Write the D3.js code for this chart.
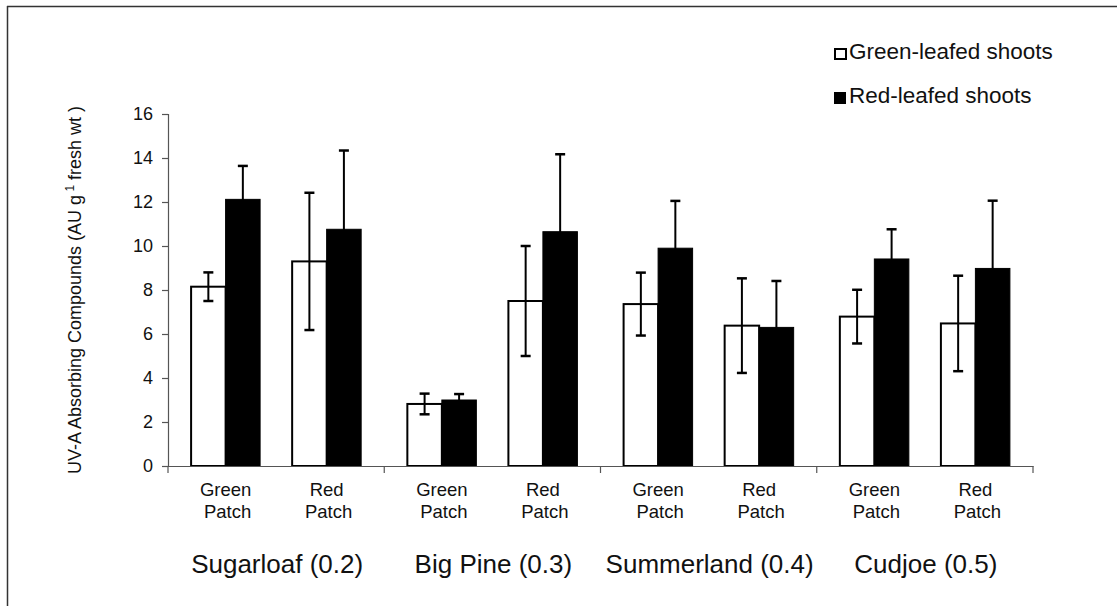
<!DOCTYPE html>
<html>
<head>
<meta charset="utf-8">
<script src="https://cdn.jsdelivr.net/npm/d3@7"></script>
<style>
  html, body { margin: 0; padding: 0; background: #fff; }
  svg { display: block; font-family: Arial, "Liberation Sans", sans-serif; }
</style>
</head>
<body>
<svg id="chart" width="1117" height="606"></svg>
<script>
// Sites (with salinity index) and the two patch types sampled at each
const sites = ["Sugarloaf (0.2)", "Big Pine (0.3)", "Summerland (0.4)", "Cudjoe (0.5)"];
const patches = ["Green Patch", "Red Patch"];
const series = ["Green-leafed shoots", "Red-leafed shoots"];

// Means and standard errors, ordered site by site, Green Patch then Red Patch
const greenMeans = [8.15, 9.3, 2.82, 7.5, 7.36, 6.38, 6.79, 6.48];
const greenErr   = [0.65, 3.12, 0.47, 2.5, 1.43, 2.15, 1.22, 2.17];
const redMeans   = [12.12, 10.76, 3.0, 10.65, 9.9, 6.3, 9.41, 8.98];
const redErr     = [1.52, 3.58, 0.27, 3.52, 2.15, 2.11, 1.35, 3.08];

const yTicks = [0, 2, 4, 6, 8, 10, 12, 14, 16];

const svg = d3.select("#chart");

// Frame lines
svg.append("line").attr("x1", 7).attr("x2", 1117).attr("y1", 6.5).attr("y2", 6.5)
  .attr("stroke", "#333").attr("stroke-width", 1.5);
svg.append("line").attr("x1", 7.5).attr("x2", 7.5).attr("y1", 6).attr("y2", 606)
  .attr("stroke", "#333").attr("stroke-width", 1.5);

const plotLeft = 168, plotRight = 1033, plotTop = 114, plotBottom = 466;

const y = d3.scaleLinear().domain([0, 16]).range([plotBottom, plotTop]);
const xSite = d3.scaleBand().domain(sites).range([plotLeft, plotRight]).padding(0);
const xPatch = d3.scalePoint().domain(patches).range([0, xSite.bandwidth()]).padding(0.57);
const barW = 34.5;
const xSeries = d3.scaleBand().domain(series).range([-barW, barW]).padding(0);

// Flatten into one record per bar
const rows = [];
sites.forEach((s, i) => {
  patches.forEach((p, j) => {
    const k = i * 2 + j;
    rows.push({ site: s, patch: p, series: series[0], mean: greenMeans[k], err: greenErr[k] });
    rows.push({ site: s, patch: p, series: series[1], mean: redMeans[k], err: redErr[k] });
  });
});
const cx = d => xSite(d.site) + xPatch(d.patch);

// Y axis
const yAxis = d3.axisLeft(y).tickValues(yTicks).tickSize(6).tickPadding(9).tickFormat(d3.format("d"));
const gy = svg.append("g").attr("transform", `translate(${plotLeft},0)`).call(yAxis);
gy.select(".domain").attr("stroke", "#555").attr("stroke-width", 1.2);
gy.selectAll(".tick line").attr("stroke", "#555").attr("stroke-width", 1.2);
gy.selectAll(".tick text").attr("font-size", 18).attr("fill", "#111")
  .attr("font-family", "Arial, 'Liberation Sans', sans-serif");

// Bars
svg.append("g").selectAll("rect").data(rows).join("rect")
  .attr("x", d => cx(d) + xSeries(d.series))
  .attr("width", xSeries.bandwidth())
  .attr("y", d => y(d.mean))
  .attr("height", d => y(0) - y(d.mean))
  .attr("fill", d => d.series === series[0] ? "#fff" : "#000")
  .attr("stroke", "#000")
  .attr("stroke-width", d => d.series === series[0] ? 2 : 1);

// X axis (drawn over bar bottoms), ticks only between sites
const xAxis = d3.axisBottom(xSite).tickSize(0).tickFormat("");
const gx = svg.append("g").attr("transform", `translate(0,${plotBottom})`).call(xAxis);
gx.select(".domain").attr("stroke", "#555").attr("stroke-width", 1.2);
gx.selectAll(".tick").remove();
const bounds = sites.map(s => xSite(s)).concat([plotRight]);
gx.selectAll("line.sep").data(bounds).join("line").attr("class", "sep")
  .attr("x1", d => d).attr("x2", d => d).attr("y1", 0).attr("y2", 7)
  .attr("stroke", "#555").attr("stroke-width", 1.2);

// Error bars
const eb = svg.append("g").selectAll("g").data(rows).join("g")
  .attr("transform", d => `translate(${cx(d) + xSeries(d.series) + xSeries.bandwidth() / 2},0)`);
eb.append("line").attr("y1", d => y(d.mean + d.err)).attr("y2", d => y(d.mean - d.err))
  .attr("stroke", "#000").attr("stroke-width", 2);
eb.append("line").attr("x1", -5).attr("x2", 5)
  .attr("y1", d => y(d.mean + d.err)).attr("y2", d => y(d.mean + d.err))
  .attr("stroke", "#000").attr("stroke-width", 2.5);
eb.append("line").attr("x1", -5).attr("x2", 5)
  .attr("y1", d => y(d.mean - d.err)).attr("y2", d => y(d.mean - d.err))
  .attr("stroke", d => d.series === series[0] ? "#000" : "none").attr("stroke-width", 2.5);

// Patch labels under each pair of bars
const patchLabels = svg.append("g");
sites.forEach(s => {
  patches.forEach(p => {
    const [l1, l2] = p.split(" ");
    const t = patchLabels.append("text").attr("text-anchor", "middle")
      .attr("font-size", 18.5).attr("fill", "#111");
    const px = xSite(s) + xPatch(p);
    t.append("tspan").attr("x", px).attr("y", 496).text(l1);
    t.append("tspan").attr("x", px + 2).attr("y", 518).text(l2);
  });
});

// Site labels
svg.append("g").selectAll("text").data(sites).join("text")
  .attr("x", d => xSite(d) + xSite.bandwidth() / 2 + 1)
  .attr("y", 573)
  .attr("text-anchor", "middle")
  .attr("font-size", 26)
  .attr("fill", "#111")
  .text(d => d);

// Y axis title
const yt = svg.append("text")
  .attr("transform", `translate(81,${(plotTop + plotBottom) / 2}) rotate(-90)`)
  .attr("text-anchor", "middle")
  .attr("font-size", 18)
  .attr("fill", "#111");
yt.append("tspan").text("UV-A Absorbing Compounds (AU g");
yt.append("tspan").attr("dy", -7).attr("font-size", 12).text(" 1");
yt.append("tspan").attr("dy", 7).text(" fresh wt )");

// Legend
const legend = svg.append("g");
series.forEach((s, i) => {
  const ly = 59 + i * 44;
  legend.append("rect")
    .attr("x", i === 0 ? 835 : 834).attr("y", i === 0 ? ly - 10 : ly - 11)
    .attr("width", i === 0 ? 11 : 12).attr("height", i === 0 ? 10 : 12)
    .attr("fill", i === 0 ? "#fff" : "#000")
    .attr("stroke", "#000").attr("stroke-width", i === 0 ? 2 : 0);
  legend.append("text").attr("x", 849).attr("y", ly)
    .attr("font-size", 22.5).attr("fill", "#111").text(s);
});
</script>
</body>
</html>
